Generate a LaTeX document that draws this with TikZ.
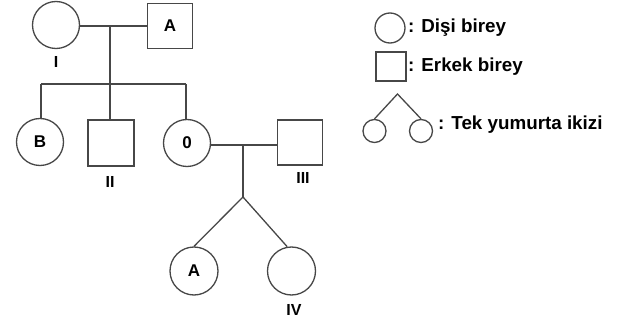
\documentclass[tikz,border=0pt]{standalone}
\usepackage{fontspec}
\setmainfont{Liberation Sans}
\begin{document}
\begin{tikzpicture}[x=1pt,y=-1pt,
  ln/.style={draw=black!72,line width=1.3pt},
  fem/.style={ln,circle,inner sep=0pt,minimum size=47pt,font=\bfseries\fontsize{17}{17}\selectfont},
  mal/.style={ln,rectangle,inner sep=0pt,minimum size=45pt,font=\bfseries\fontsize{17}{17}\selectfont},
  lab/.style={inner sep=0pt,font=\bfseries\fontsize{16}{16}\selectfont},
  leg/.style={inner sep=0pt,anchor=west,font=\bfseries\fontsize{18.8}{19}\selectfont}]
\useasboundingbox (0,0) rectangle (635,326);
% generation 1
\node[fem] (I) at (56,25) {};
\node[lab] (lI) at (56,62) {I};
\node[mal] (A) at (170,26) {A};
\coordinate (m1) at (110,26);
\coordinate (s1) at (110,84);
\coordinate (sl) at (41,84);
\coordinate (sr) at (186,84);
\draw[ln] (I.east |- m1) -- (A.west |- m1);
\draw[ln] (m1) -- (s1);
\draw[ln] (sl) -- (sr);
% generation 2
\node[fem] (B) at (40,142) {B};
\node[mal,minimum size=46pt] (II) at (111,143) {};
\node[lab] (lII) at (110,182) {II};
\node[fem] (O) at (187,143) {0};
\node[mal] (III) at (300,142.5) {};
\node[lab] (lIII) at (303,178) {III};
\draw[ln] (sl) -- (sl |- B.north);
\draw[ln] (s1) -- (s1 |- II.north);
\draw[ln] (sr) -- (sr |- O.north);
\coordinate (m2) at (243,145);
\coordinate (tw) at (243,197);
\draw[ln] (O.east |- m2) -- (III.west |- m2);
\draw[ln] (m2) -- (tw);
% generation 3
\node[fem,minimum size=48pt] (A2) at (194,271) {A};
\node[fem,minimum size=48pt] (IV) at (291.5,271) {};
\node[lab] (lIV) at (294,310) {IV};
\draw[ln] (tw) -- (A2.north);
\draw[ln] (tw) -- (IV.100);
% legend
\node[ln,circle,inner sep=0pt,minimum size=30pt] (LF) at (390,28) {};
\node[leg] (tF) at (408,28) {: Dişi birey};
\node[ln,rectangle,inner sep=0pt,minimum width=30pt,minimum height=29pt] (LM) at (391,66.5) {};
\node[leg] (tM) at (408,67) {: Erkek birey};
\coordinate (ta) at (397.5,94);
\node[ln,circle,inner sep=0pt,minimum size=23pt] (LT1) at (374.5,131) {};
\node[ln,circle,inner sep=0pt,minimum size=23pt] (LT2) at (421,131) {};
\draw[ln] (LT1.north) -- (ta) -- (LT2.north);
\node[leg] (tT) at (438,125) {: Tek yumurta ikizi};
\end{tikzpicture}
\end{document}
